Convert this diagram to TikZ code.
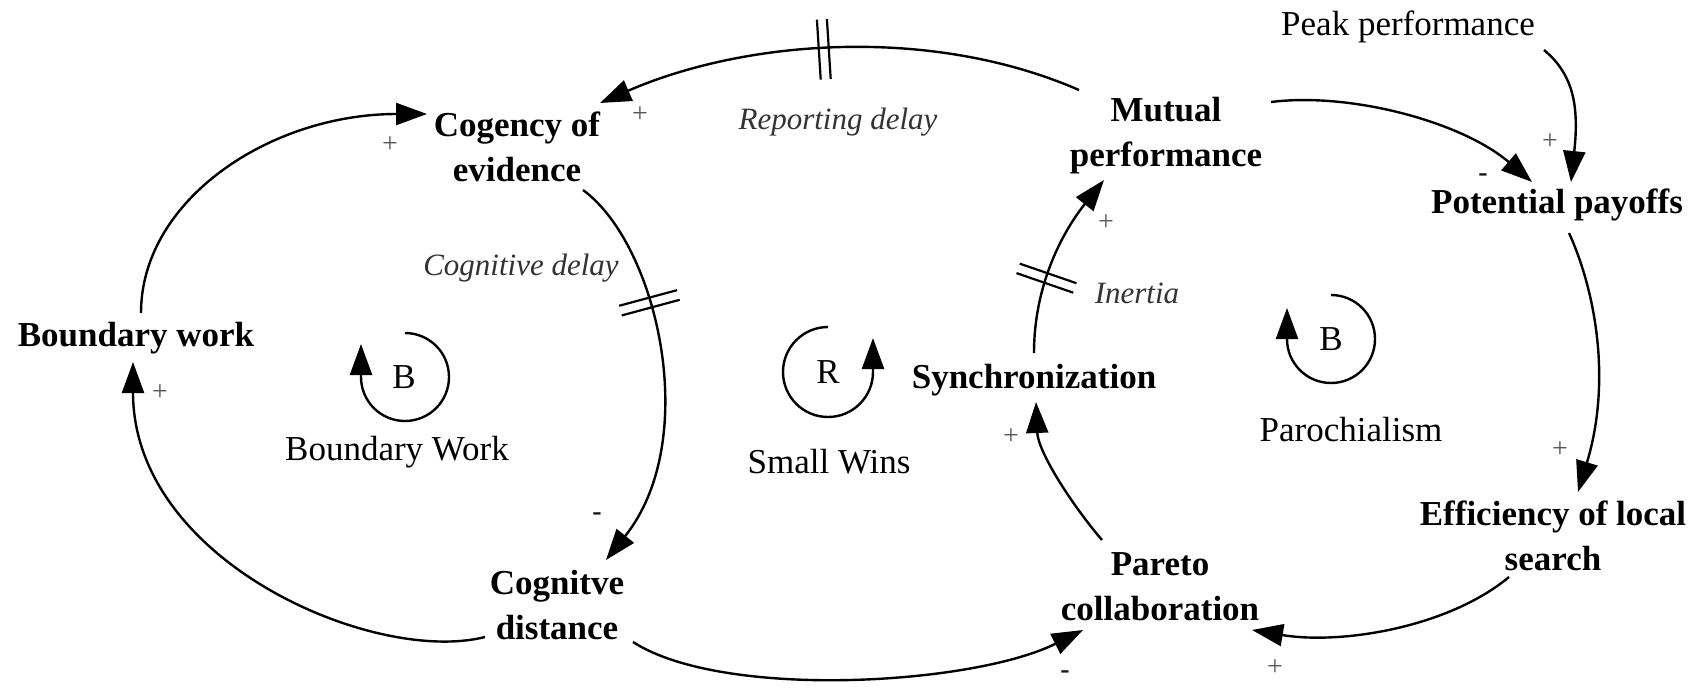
\documentclass[tikz,border=0pt]{standalone}
\usepackage{fontspec}
\setmainfont{Liberation Serif}
\usetikzlibrary{arrows.meta,decorations.markings}
\begin{document}
\begin{tikzpicture}[x=1pt,y=-1pt,
  var/.style={font=\fontsize{35}{45}\selectfont\bfseries, align=center, inner sep=0pt},
  ext/.style={font=\fontsize{35}{42}\selectfont, inner sep=0pt},
  delaytxt/.style={font=\fontsize{31}{36}\selectfont\itshape, text=black!80, inner sep=0pt},
  pol/.style={font=\fontsize{28}{30}\selectfont, text=black!65, inner sep=0pt},
  neg/.style={font=\fontsize{28}{30}\selectfont\bfseries, text=black!90, inner sep=0pt},
  link/.style={line width=2.4pt, -{Triangle[length=31pt,width=22pt]}},
  delaymark/.style={postaction={decorate, decoration={markings,
      mark=at position #1 with {\draw[line width=2.2pt,-] (-5pt,-30pt) -- (-5pt,30pt) (5pt,-30pt) -- (5pt,30pt);}}}}
]
\fill[white] (0,0) rectangle (1702,688);
\useasboundingbox (0,0) rectangle (1702,688);

% variables
\node[ext] (peak) at (1408,27) {Peak performance};
\node[var] (mutual) at (1166,136) {Mutual\\performance};
\node[var] (payoff) at (1557,205) {Potential payoffs};
\node[var] (cog) at (517,147) {Cogency of\\evidence};
\node[var] (bw) at (136,338) {Boundary work};
\node[var] (sync) at (1034,380) {Synchronization};
\node[var] (cd) at (557,605) {Cognitve\\distance};
\node[var] (pareto) at (1160,587) {Pareto\\collaboration};
\node[var] (eff) at (1553,536) {Efficiency of local\\search};

% causal links
\draw[link] ([shift={(5,-25)}]bw.center) .. controls +(0,-113) and +(-157,0) .. ([shift={(-90,-33)}]cog.center);
\draw[link] ([shift={(-72,32)}]cd.center) .. controls +(-110,28) and +(0,200) .. ([shift={(-3,24)}]bw.center);
\draw[link, delaymark=0.33] ([shift={(66,43)}]cog.center) .. controls +(75,55) and +(96,-120) .. ([shift={(49,-45)}]cd.center);
\draw[link] ([shift={(76,37)}]cd.center) .. controls +(90,58) and +(-110,55) .. ([shift={(-77,43)}]pareto.center);
\draw[link] ([shift={(-58,-47)}]pareto.center) .. controls +(-30,-35) and +(2,50) .. ([shift={(2,22)}]sync.center);
\draw[link, delaymark=0.4] ([shift={(0,-27)}]sync.center) .. controls +(0,-70) and +(-40,50) .. ([shift={(-62,44)}]mutual.center);
\draw[link, delaymark=0.53] ([shift={(-87,-46)}]mutual.center) .. controls +(-147,-64) and +(147,-64) .. ([shift={(83,-44)}]cog.center);
\draw[link] ([shift={(105,-34)}]mutual.center) .. controls +(80,-10) and +(-70,-60) .. ([shift={(-25,-23)}]payoff.center);
\draw[link] ([shift={(136,23)}]peak.center) .. controls +(30,25) and +(8,-75) .. ([shift={(14,-23)}]payoff.center);
\draw[link] ([shift={(12,28)}]payoff.center) .. controls +(26,57) and +(34,-112) .. ([shift={(25,-44)}]eff.center);
\draw[link] ([shift={(-44,41)}]eff.center) .. controls +(-60,50) and +(90,15) .. ([shift={(92,43)}]pareto.center);

% delay labels
\node[delaytxt] (repd) at (838,122) {Reporting delay};
\node[delaytxt] (cogd) at (521,268) {Cognitive delay};
\node[delaytxt] (inert) at (1137,293) {Inertia};

% loop identifiers
\draw[link] (405,333) arc[start angle=-90, end angle=180, radius=44] -- ++(0,-33);
\node[ext] (b1) at (404,377) {B};
\node[ext] (lbw) at (397,452) {Boundary Work};
\draw[link] (828,327) arc[start angle=-90, end angle=-360, radius=45] -- ++(0,-34);
\node[ext] (r1) at (828,372) {R};
\node[ext] (lsw) at (829,462) {Small Wins};
\draw[link] (1331,295) arc[start angle=-90, end angle=180, radius=44] -- ++(0,-31);
\node[ext] (b2) at (1331,339) {B};
\node[ext] (lpar) at (1351,430) {Parochialism};

% link polarities
\node[pol] (p1) at (390,145) {+};
\node[pol] (p2) at (640,115) {+};
\node[neg] (p3) at (597,517) {-};
\node[pol] (p4) at (160,393) {+};
\node[neg] (p5) at (1065,675) {-};
\node[pol] (p6) at (1011,437) {+};
\node[pol] (p7) at (1106,223) {+};
\node[neg] (p8) at (1483,178) {-};
\node[pol] (p9) at (1550,142) {+};
\node[pol] (p10) at (1560,450) {+};
\node[pol] (p11) at (1275,668) {+};
\end{tikzpicture}
\end{document}
